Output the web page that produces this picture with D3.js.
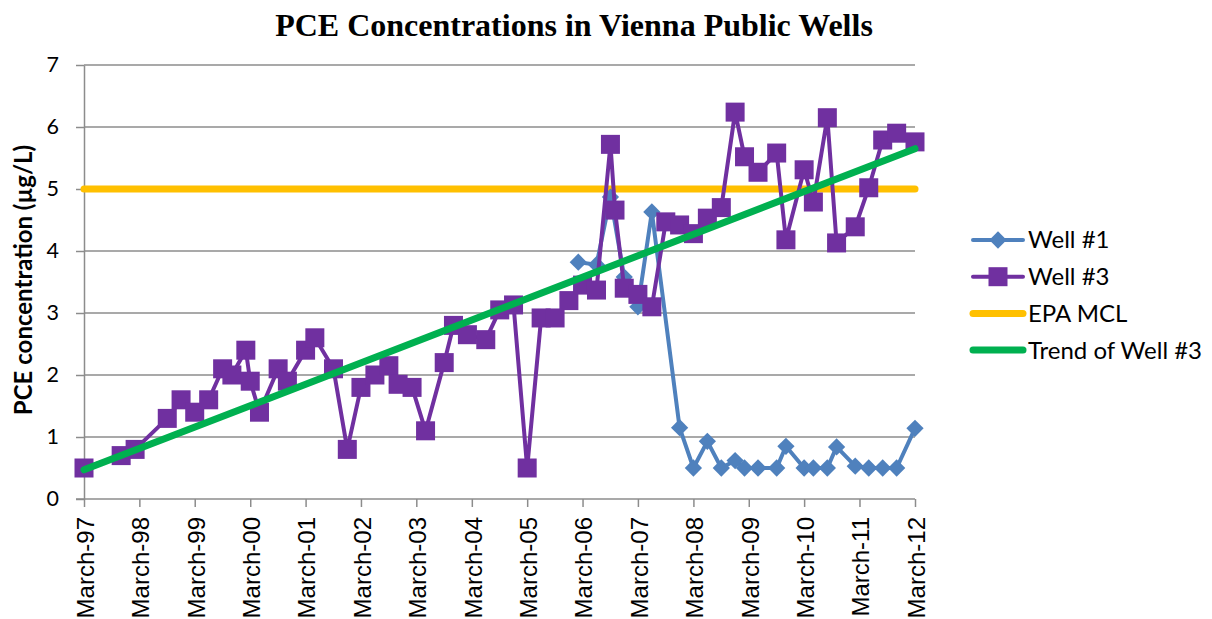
<!DOCTYPE html>
<html>
<head>
<meta charset="utf-8">
<script src="https://cdn.jsdelivr.net/npm/d3@7"></script>
<style>
  body { margin: 0; background: #fff; }
  .title { font-family: "Liberation Serif", "Times New Roman", serif; font-weight: bold; font-size: 32px; }
  .tick text { fill: #000; }
  .legendText { font-family: Lato, "Open Sans", sans-serif; font-size: 24px; }
</style>
</head>
<body>
<div class="chart"></div>
<script>
// Well #1 sample dates and PCE values (µg/L)
var well1Dates = ["2006-02", "2006-06", "2006-09", "2006-12", "2007-03", "2007-06", "2007-12",
  "2008-03", "2008-06", "2008-09", "2008-12", "2009-02", "2009-05", "2009-09", "2009-11",
  "2010-03", "2010-05", "2010-08", "2010-10", "2011-02", "2011-05", "2011-08", "2011-11", "2012-03"];
var well1Values = [3.82, 3.78, 4.87, 3.58, 3.1, 4.63, 1.15,
  0.5, 0.93, 0.5, 0.62, 0.5, 0.5, 0.5, 0.85,
  0.5, 0.5, 0.5, 0.84, 0.53, 0.5, 0.5, 0.5, 1.14];

// Well #3 sample dates and PCE values (µg/L)
var well3Dates = ["1997-03", "1997-11", "1998-02", "1998-09", "1998-12", "1999-03", "1999-06",
  "1999-09", "1999-11", "2000-02", "2000-03", "2000-05", "2000-09", "2000-11", "2001-03",
  "2001-05", "2001-09", "2001-12", "2002-03", "2002-06", "2002-09", "2002-11", "2003-02",
  "2003-05", "2003-09", "2003-11", "2004-02", "2004-06", "2004-09", "2004-12", "2005-03",
  "2005-06", "2005-09", "2005-12", "2006-03", "2006-06", "2006-09", "2006-10", "2006-12",
  "2007-03", "2007-06", "2007-09", "2007-12", "2008-03", "2008-06", "2008-09", "2008-12",
  "2009-02", "2009-05", "2009-09", "2009-11", "2010-03", "2010-05", "2010-08", "2010-10",
  "2011-02", "2011-05", "2011-08", "2011-11", "2012-03"];
var well3Values = [0.5, 0.7, 0.8, 1.3, 1.6, 1.4, 1.6,
  2.1, 2.0, 2.4, 1.9, 1.4, 2.1, 1.9, 2.4,
  2.6, 2.1, 0.8, 1.8, 2.0, 2.15, 1.85, 1.8,
  1.1, 2.2, 2.8, 2.65, 2.57, 3.05, 3.13, 0.5,
  2.92, 2.92, 3.2, 3.45, 3.37, 5.72, 4.66, 3.4,
  3.3, 3.1, 4.47, 4.42, 4.28, 4.53, 4.7, 6.24,
  5.52, 5.27, 5.58, 4.18, 5.31, 4.79, 6.15, 4.13,
  4.39, 5.02, 5.79, 5.9, 5.76];

// EPA maximum contaminant level and linear trend of Well #3 (end points)
var mclDates = ["1997-03", "2012-03"];
var mclValues = [5, 5];
var trendDates = ["1997-03", "2012-03"];
var trendValues = [0.47, 5.65];

var yTicks = [0, 1, 2, 3, 4, 5, 6, 7];

var parseDate = d3.timeParse("%Y-%m");
var formatTick = d3.timeFormat("%B-%y");

function zipSeries(dates, values) {
  return dates.map(function (d, i) {
    return { date: parseDate(d), value: values[i] };
  });
}

var well1 = zipSeries(well1Dates, well1Values);
var well3 = zipSeries(well3Dates, well3Values);
var mcl = zipSeries(mclDates, mclValues);
var trend = zipSeries(trendDates, trendValues);

var svgWidth = 1212;
var svgHeight = 619;

// plot area: x 84..915, y 65..499
var margin = { top: 65, left: 84 };
var width = 915 - margin.left;
var height = 499 - margin.top;

var svg = d3.select(".chart")
  .append("svg")
  .attr("width", svgWidth)
  .attr("height", svgHeight);

var chartGroup = svg.append("g")
  .attr("transform", `translate(${margin.left}, ${margin.top})`);

// scales
var xTimeScale = d3.scaleTime()
  .domain([parseDate("1997-03"), parseDate("2012-03")])
  .range([0, width]);

var yLinearScale = d3.scaleLinear()
  .domain([0, 7])
  .range([height, 0]);

// gridlines
chartGroup.append("g")
  .selectAll("line")
  .data(yTicks.slice(1))
  .enter()
  .append("line")
  .attr("x1", 0)
  .attr("x2", width)
  .attr("y1", d => yLinearScale(d))
  .attr("y2", d => yLinearScale(d))
  .attr("stroke", "#8c8c8c")
  .attr("stroke-width", 1.5);

// axes
var xTickDates = d3.range(1997, 2013).map(y => parseDate(y + "-03"));
var bottomAxis = d3.axisBottom(xTimeScale)
  .tickValues(xTickDates)
  .tickFormat(formatTick)
  .tickSizeInner(8)
  .tickSizeOuter(0);

var leftAxis = d3.axisLeft(yLinearScale)
  .tickValues(yTicks)
  .tickFormat(d3.format("d"))
  .tickSizeInner(8)
  .tickSizeOuter(0)
  .tickPadding(17);

var xAxisG = chartGroup.append("g")
  .attr("transform", `translate(0, ${height})`)
  .call(bottomAxis);

xAxisG.select(".domain").attr("d", `M-8,0H${width}`);

xAxisG.selectAll("text")
  .attr("font-family", "'Liberation Sans', Arial, sans-serif")
  .style("font-size", "24px")
  .attr("transform", "rotate(-90)")
  .attr("x", -18)
  .attr("y", 1)
  .attr("dy", "0.35em")
  .style("text-anchor", "end");

var yAxisG = chartGroup.append("g")
  .call(leftAxis);

yAxisG.selectAll("text")
  .attr("font-family", "Lato, 'Open Sans', sans-serif")
  .style("font-size", "21.5px");

chartGroup.selectAll(".domain, .tick line")
  .attr("stroke", "#8c8c8c")
  .attr("stroke-width", 1.5);

var lineGen = d3.line()
  .x(d => xTimeScale(d.date))
  .y(d => yLinearScale(d.value));

// EPA MCL
chartGroup.append("path")
  .datum(mcl)
  .attr("d", lineGen)
  .attr("fill", "none")
  .attr("stroke", "#FFC000")
  .attr("stroke-width", 7)
  .attr("stroke-linecap", "round");

// Well #1
chartGroup.append("path")
  .datum(well1)
  .attr("d", lineGen)
  .attr("fill", "none")
  .attr("stroke", "#4F81BD")
  .attr("stroke-width", 4)
  .attr("stroke-linejoin", "round");

var diamond = d3.symbol().type(d3.symbolDiamond2).size(190);
chartGroup.selectAll(".well1")
  .data(well1)
  .enter()
  .append("path")
  .attr("class", "well1")
  .attr("transform", d => `translate(${xTimeScale(d.date)}, ${yLinearScale(d.value)})`)
  .attr("d", diamond)
  .attr("fill", "#4F81BD");

// Well #3
chartGroup.append("path")
  .datum(well3)
  .attr("d", lineGen)
  .attr("fill", "none")
  .attr("stroke", "#7030A0")
  .attr("stroke-width", 4)
  .attr("stroke-linejoin", "round");

chartGroup.selectAll(".well3")
  .data(well3)
  .enter()
  .append("rect")
  .attr("class", "well3")
  .attr("x", d => xTimeScale(d.date) - 9.5)
  .attr("y", d => yLinearScale(d.value) - 9.5)
  .attr("width", 19)
  .attr("height", 19)
  .attr("fill", "#7030A0");

// trend line
chartGroup.append("path")
  .datum(trend)
  .attr("d", lineGen)
  .attr("fill", "none")
  .attr("stroke", "#00B050")
  .attr("stroke-width", 7)
  .attr("stroke-linecap", "round");

// title
svg.append("text")
  .attr("class", "title")
  .attr("x", 574)
  .attr("y", 36)
  .attr("text-anchor", "middle")
  .text("PCE Concentrations in Vienna Public Wells");

// y axis label
svg.append("text")
  .attr("transform", "rotate(-90)")
  .attr("x", -280)
  .attr("y", 32)
  .attr("text-anchor", "middle")
  .attr("font-family", "Lato, 'Open Sans', sans-serif")
  .attr("font-weight", "bold")
  .attr("font-size", "24px")
  .text("PCE concentration (µg/L)");

// legend
var legendItems = [
  { name: "Well #1", color: "#4F81BD", width: 4, marker: "diamond" },
  { name: "Well #3", color: "#7030A0", width: 4, marker: "square" },
  { name: "EPA MCL", color: "#FFC000", width: 7, marker: null },
  { name: "Trend of Well #3", color: "#00B050", width: 7, marker: null }
];

var legend = svg.append("g")
  .attr("transform", "translate(970, 240)");

var legendRows = legend.selectAll("g")
  .data(legendItems)
  .enter()
  .append("g")
  .attr("transform", (d, i) => `translate(0, ${i * 36.7})`);

legendRows.append("line")
  .attr("x1", 3)
  .attr("x2", 53)
  .attr("stroke", d => d.color)
  .attr("stroke-width", d => d.width)
  .attr("stroke-linecap", "round");

legendRows.filter(d => d.marker === "diamond")
  .append("path")
  .attr("transform", "translate(28, 0)")
  .attr("d", diamond)
  .attr("fill", d => d.color);

legendRows.filter(d => d.marker === "square")
  .append("rect")
  .attr("x", 18.5)
  .attr("y", -9.5)
  .attr("width", 19)
  .attr("height", 19)
  .attr("fill", d => d.color);

legendRows.append("text")
  .attr("class", "legendText")
  .attr("x", 58)
  .attr("dy", "0.35em")
  .text(d => d.name);
</script>
</body>
</html>
